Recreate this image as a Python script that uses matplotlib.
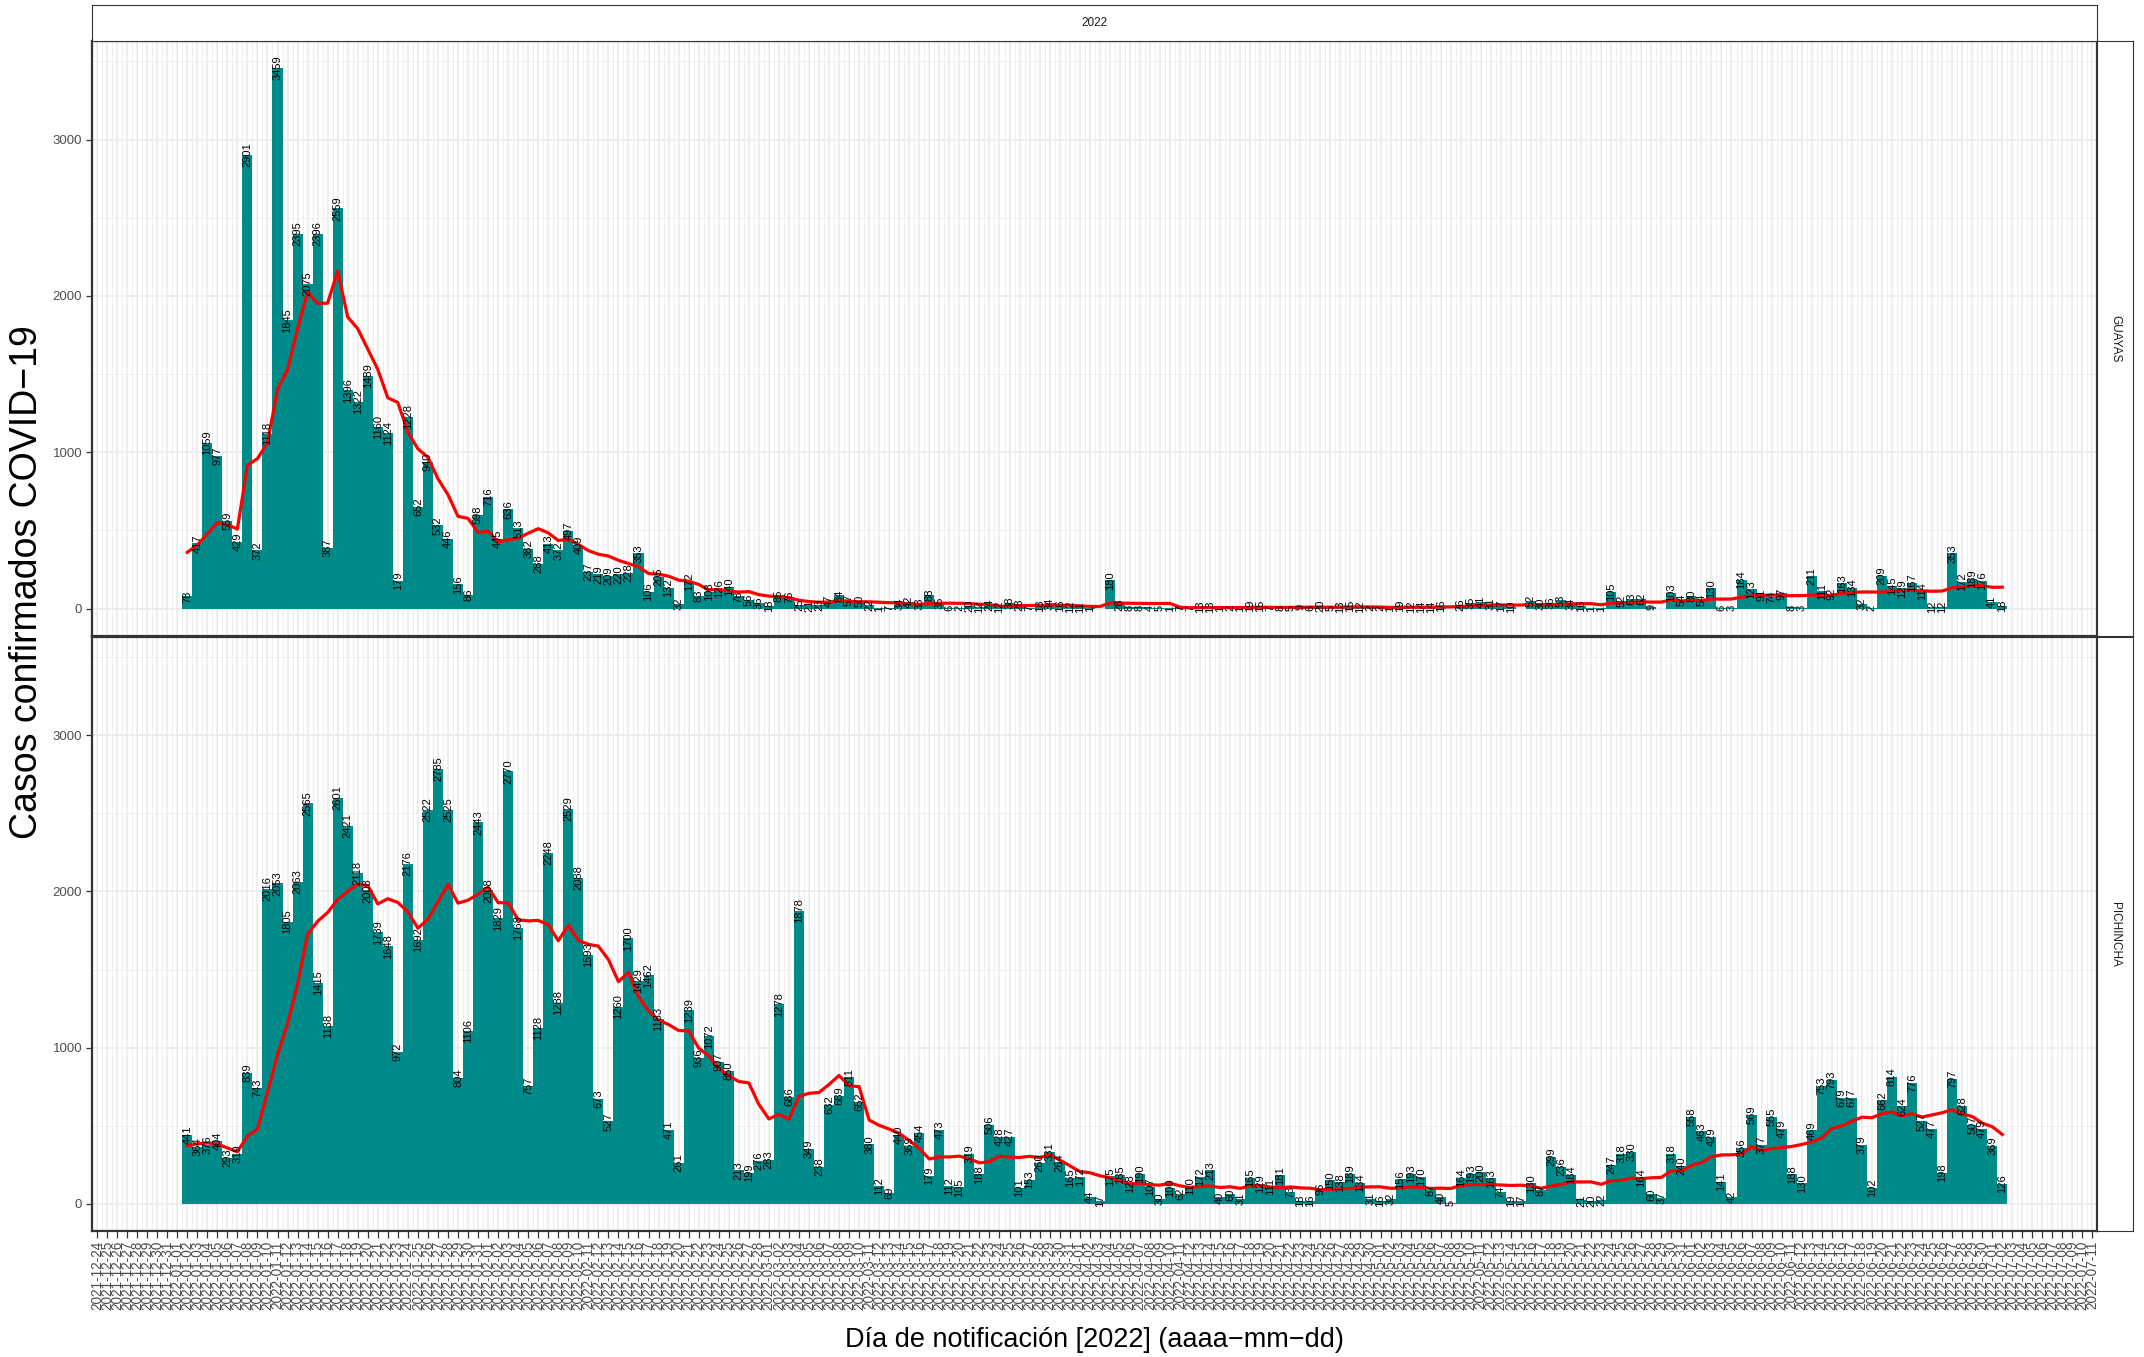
import numpy as np
import pandas as pd
import matplotlib
matplotlib.use("Agg")
import matplotlib.pyplot as plt
import matplotlib.dates as mdates

plt.rcParams['font.family'] = ['Liberation Sans', 'DejaVu Sans']

# ---------------- data ----------------
start_date = "2022-01-02"
axis_start = "2021-12-24"
axis_end = "2022-07-11"
year_label = "2022"
provinces = ["GUAYAS", "PICHINCHA"]

# daily confirmed cases (None = no report that day)
guayas = [78, 417, 1059, 977, 559, 429, 2901, 372, 1118, 3459,
          1845, 2395, 2075, 2396, 387, 2559, 1396, 1322, 1489, 1160,
          1124, 179, 1228, 652, 940, 532, 446, 156, 86, 598,
          716, 445, 636, 513, 382, 288, 413, 372, 497, 409,
          237, 219, 209, 220, 228, 353, 106, 205, 132, 32,
          172, 83, 108, 126, 140, 78, 56, 36, 18, 85,
          76, 25, 21, 23, 47, 84, 57, 50, 22, 1,
          7, 34, 42, 33, 88, 35, 6, 2, 20, 12,
          24, 12, 38, 28, 7, 18, 34, 16, 12, 11,
          1, None, 180, 28, 8, 8, 4, 5, 1, 7,
          7, 13, 13, 1, 2, 1, 19, 15, 7, 8,
          5, 9, 6, 20, 5, 13, 15, 12, 2, 2,
          1, 19, 12, 14, 14, 16, None, 26, 35, 41,
          31, 17, 10, None, 52, 30, 36, 53, 34, 16,
          1, 1, 105, 52, 63, 62, 9, None, 103, 54,
          80, 54, 130, 6, 3, 184, 123, 91, 74, 97,
          8, 3, 211, 111, 92, 163, 134, 32, 2, 209,
          145, 129, 167, 114, 12, 12, 353, 172, 189, 176,
          41, 18]

pichincha = [441, 364, 376, 404, 293, 319, 839, 743, 2016, 2053,
             1805, 2063, 2565, 1415, 1138, 2601, 2421, 2118, 2008, 1739,
             1648, 972, 2176, 1692, 2522, 2785, 2525, 804, 1106, 2443,
             2008, 1829, 2770, 1768, 757, 1128, 2248, 1288, 2529, 2088,
             1593, 673, 527, 1260, 1700, 1429, 1462, 1183, 471, 261,
             1239, 936, 1072, 907, 850, 213, 199, 276, 283, 1278,
             686, 1878, 349, 238, 632, 689, 811, 652, 380, 112,
             69, 440, 369, 454, 179, 473, 112, 105, 319, 188,
             506, 428, 427, 101, 153, 260, 331, 264, 165, 172,
             44, 17, 175, 185, 128, 190, 107, 30, 100, 62,
             110, 172, 213, 40, 60, 31, 165, 129, 111, 181,
             73, 18, 16, 96, 150, 138, 189, 134, 31, 16,
             32, 156, 193, 170, 87, 40, 5, 164, 193, 200,
             163, 74, 19, 17, 130, 87, 299, 236, 184, 21,
             20, 22, 247, 318, 330, 164, 60, 37, 318, 240,
             558, 463, 429, 141, 42, 356, 569, 377, 555, 479,
             188, 130, 469, 753, 793, 679, 677, 379, 102, 662,
             814, 624, 776, 527, 477, 198, 797, 628, 507, 479,
             369, 126]

# last six days of 2021 (only used for the trailing 7-day mean)
guayas_prev = [88, 562, 480, 643, 625, 44]
pichincha_prev = [287, 334, 446, 475, 494, 127]

series = {"GUAYAS": (guayas, guayas_prev), "PICHINCHA": (pichincha, pichincha_prev)}

# ---------------- figure ----------------
W, H = 2144, 1357
fig = plt.figure(figsize=(W / 100, H / 100), dpi=100)
fig.patch.set_facecolor("white")

dates = pd.date_range(start_date, periods=len(guayas), freq="D")
xd = mdates.date2num(dates.to_pydatetime())
all_days = pd.date_range(axis_start, axis_end, freq="D")
tick_x = mdates.date2num(all_days.to_pydatetime())

px_left, px_right = 92, 2097
panels_px = [(41, 636), (637, 1231)]
axes = []
for i, prov in enumerate(provinces):
    top, bot = panels_px[i]
    ax = fig.add_axes([px_left / W, 1 - bot / H, (px_right - px_left) / W, (bot - top) / H])
    axes.append(ax)
    vals, prev = series[prov]
    v = np.array([np.nan if a is None else a for a in vals], dtype=float)
    full = np.concatenate([np.array(prev, float), np.nan_to_num(v, nan=0.0)])
    roll = pd.Series(full).rolling(7).mean().to_numpy()[len(prev):]

    ax.set_facecolor("white")
    mask = ~np.isnan(v)
    ax.bar(xd[mask], v[mask], width=1.0, color="#008B8B", linewidth=0, zorder=2)
    ax.plot(xd, roll, color="#FF0000", lw=2.3, zorder=3, solid_joinstyle="round")
    for xx, val in zip(xd[mask], v[mask]):
        ax.text(xx, val, f"{int(val)}", rotation=90, ha="center", va="center",
                fontsize=8, color="black", zorder=4)

    ax.set_xlim(tick_x[0] - 0.5, tick_x[-1] + 0.45)
    ax.set_ylim(-175, 3630)
    ax.set_yticks([0, 1000, 2000, 3000])
    ax.set_yticks([500, 1500, 2500, 3500], minor=True)
    ax.set_xticks(tick_x)
    ax.set_xticks(tick_x[:-1] + 0.5, minor=True)
    ax.grid(which="major", axis="both", color="#EBEBEB", lw=1.2, zorder=0)
    ax.grid(which="minor", axis="both", color="#EBEBEB", lw=0.6, zorder=0)
    ax.set_axisbelow(True)
    for s in ax.spines.values():
        s.set_color("#333333")
        s.set_linewidth(1.6)
    ax.tick_params(axis="y", which="major", length=4, width=0.9, color="#333333",
                   labelsize=9.5, labelcolor="#4D4D4D", pad=3)
    ax.tick_params(which="minor", length=0)
    if i == 0:
        ax.tick_params(axis="x", which="major", length=0, labelbottom=False)
    else:
        ax.set_xticklabels([d.strftime("%Y-%m-%d") for d in all_days], rotation=90,
                           fontsize=9.8, color="#4D4D4D")
        ax.tick_params(axis="x", which="major", length=5, width=0.9, color="#333333", pad=2)

    # right strip
    sax = fig.add_axes([px_right / W, 1 - bot / H, 36 / W, (bot - top) / H])
    sax.set_xticks([]); sax.set_yticks([])
    sax.set_facecolor("white")
    for s in sax.spines.values():
        s.set_color("#333333"); s.set_linewidth(0.8)
    sax.text(0.5, 0.5, prov, rotation=-90, ha="center", va="center",
             fontsize=8.5, color="#1A1A1A", transform=sax.transAxes)

# top strip
tax = fig.add_axes([px_left / W, 1 - 41 / H, (px_right - px_left) / W, 36 / H])
tax.set_xticks([]); tax.set_yticks([])
tax.set_facecolor("white")
for s in tax.spines.values():
    s.set_color("#333333"); s.set_linewidth(0.8)
tax.text(0.5, 0.5, year_label, ha="center", va="center", fontsize=8.5, color="#1A1A1A",
         transform=tax.transAxes)

fig.text(27 / W, 1 - 582 / H, "Casos confirmados COVID\u221219", rotation=90,
         ha="center", va="center", fontsize=27, color="black")
fig.text((px_left + px_right) / 2 / W, 1 - 1340 / H,
         "D\u00eda de notificaci\u00f3n [2022] (aaaa\u2212mm\u2212dd)",
         ha="center", va="center", fontsize=19.5, color="black")

fig.savefig("out.png", dpi=100, facecolor="white")
